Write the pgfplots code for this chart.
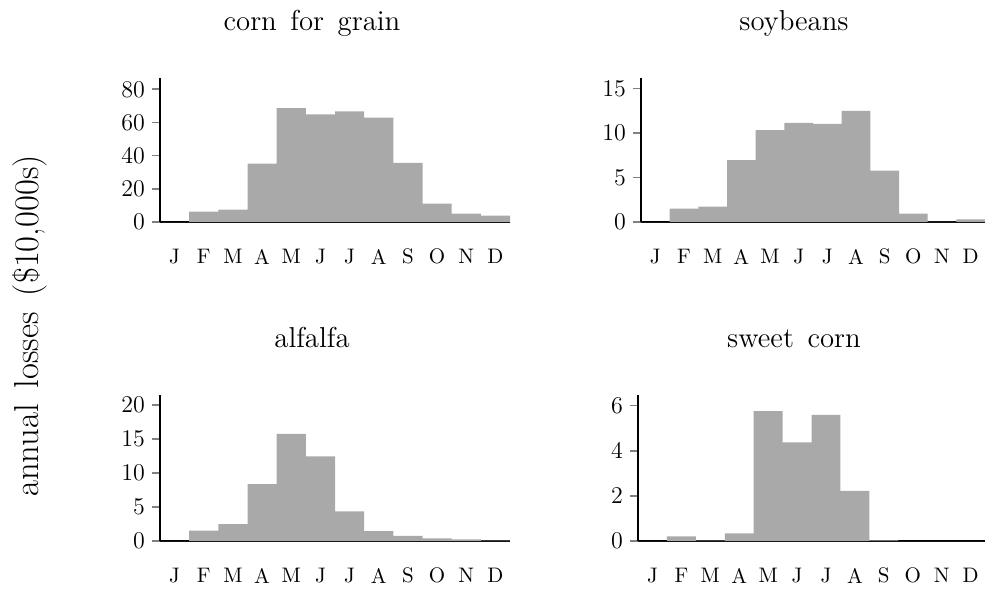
\documentclass[border=0pt]{standalone}
\usepackage{pgfplots}
\pgfplotsset{compat=1.18}
\definecolor{bargray}{RGB}{169,169,169}
\pgfplotsset{
  panel/.style={
    scale only axis,
    anchor=south west,
    axis lines=left,
    axis line style={-, line width=1pt},
    xmin=0, xmax=12, ymin=0,
    xtick={0.5,1.5,...,11.5},
    xticklabels={J,F,M,A,M,J,J,A,S,O,N,D},
    xtick style={draw=none},
    ytick style={line width=0.8pt},
    tick align=outside,
    major tick length=4pt,
    yticklabel style={font=\fontsize{11.5}{14}\selectfont},
    xticklabel style={font=\fontsize{10.5}{13}\selectfont, yshift=-6pt},
    clip=false,
  },
  bars/.style={ybar interval, fill=bargray, draw=none},
}
\begin{document}
\begin{tikzpicture}
\useasboundingbox (0,0) rectangle (492.5pt,295.5pt);
% top-left: corn for grain
\begin{axis}[panel, at={(80pt,184.5pt)}, width=175pt, height=72pt,
  ymax=86.8, ytick={0,20,40,60,80}]
\addplot[bars] coordinates {(0,0) (1,6.2) (2,7.4) (3,35.2) (4,68.7) (5,64.9) (6,66.7) (7,62.9) (8,35.6) (9,11.1) (10,5.0) (11,3.8) (12,3.8)};
\end{axis}
% top-right: soybeans
\begin{axis}[panel, at={(320.5pt,184.5pt)}, width=172pt, height=72pt,
  ymax=16.2, ytick={0,5,10,15}]
\addplot[bars] coordinates {(0,0) (1,1.51) (2,1.73) (3,6.97) (4,10.33) (5,11.16) (6,11.04) (7,12.51) (8,5.77) (9,0.94) (10,0.02) (11,0.3) (12,0.3)};
\end{axis}
% bottom-left: alfalfa
\begin{axis}[panel, at={(80pt,25pt)}, width=175pt, height=73pt,
  ymax=21.5, ytick={0,5,10,15,20}]
\addplot[bars] coordinates {(0,0) (1,1.52) (2,2.5) (3,8.38) (4,15.78) (5,12.45) (6,4.36) (7,1.47) (8,0.74) (9,0.39) (10,0.25) (11,0.05) (12,0.05)};
\end{axis}
% bottom-right: sweet corn
\begin{axis}[panel, at={(319pt,25pt)}, width=173.5pt, height=73pt,
  ymax=6.47, ytick={0,2,4,6}]
\addplot[bars] coordinates {(0,0) (1,0.21) (2,0.02) (3,0.34) (4,5.76) (5,4.37) (6,5.59) (7,2.22) (8,0.03) (9,0) (10,0) (11,0) (12,0)};
\end{axis}
% titles
\node[anchor=base, font=\Large] at (156pt,280.5pt) {\spaceskip=0.47em\relax corn for grain};
\node[anchor=base, font=\Large] at (397pt,280.5pt) {\spaceskip=0.47em\relax soybeans};
\node[anchor=base, font=\Large] at (156pt,122pt) {\spaceskip=0.47em\relax alfalfa};
\node[anchor=base, font=\Large] at (397pt,122pt) {\spaceskip=0.47em\relax sweet corn};
% y label
\node[rotate=90, font=\LARGE] at (15pt,132.5pt) {\spaceskip=0.47em\relax annual losses (\$10,000s)};
\end{tikzpicture}
\end{document}
